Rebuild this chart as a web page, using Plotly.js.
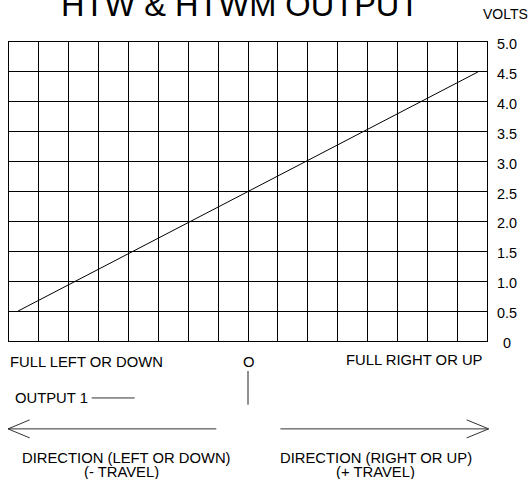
<!DOCTYPE html>
<html><head><meta charset="utf-8">
<script src="https://cdn.plot.ly/plotly-3.0.1.min.js"></script>
<style>html,body{margin:0;padding:0;background:#fff}</style>
</head><body><div id="chart" style="width:532px;height:479px"></div>
<script>
// Data
const travel = [-7.7, 7.7];          // position along travel (grid columns from centre)
const output1 = [0.5, 4.5];          // volts
const voltTicks = [0, 0.5, 1, 1.5, 2, 2.5, 3, 3.5, 4, 4.5, 5];
const voltTickLabels = ['0','0.5','1.0','1.5','2.0','2.5','3.0','3.5','4.0','4.5','5.0'];
const titleText = 'HTW & HTWM OUTPUT';
const unitText = 'VOLTS';

const W = 532, H = 479;
const L = 9.3, R = 487.3, T = 42, B = 340.7;
const px = x => (x - L) / (R - L);
const py = y => (B - y) / (B - T);
const FONT = 'Liberation Sans, Arial, sans-serif';

function txt(text, x, y, xanchor, size, extra) {
  return Object.assign({text: text, xref: 'paper', yref: 'paper', x: px(x), y: py(y),
    xanchor: xanchor, yanchor: 'middle', showarrow: false,
    font: {family: FONT, size: size, color: '#000'}}, extra || {});
}
function seg(x0, y0, x1, y1, color) {
  return {type: 'line', xref: 'paper', yref: 'paper', x0: px(x0), y0: py(y0), x1: px(x1), y1: py(y1),
    line: {color: color || '#333', width: 1}};
}

const annotations = [
  txt(titleText, 240.5, 5, 'center', 32.6),
  txt(unitText, 506, 14.5, 'center', 14),
  txt('FULL LEFT OR DOWN', 8.5, 362, 'left', 14.8),
  txt('O', 249.3, 362, 'center', 14.8),
  txt('FULL RIGHT OR UP', 485.5, 360, 'right', 14.8),
  txt('OUTPUT 1', 12.9, 397.6, 'left', 14.8),
  txt('DIRECTION (LEFT OR DOWN)', 126.5, 457.6, 'center', 14.8),
  txt('(- TRAVEL)', 122, 471.5, 'center', 14.8),
  txt('DIRECTION (RIGHT OR UP)', 375.8, 457.6, 'center', 14.8),
  txt('(+ TRAVEL)', 375.4, 471.5, 'center', 14.8)
];
voltTicks.forEach((v, i) => {
  annotations.push({text: voltTickLabels[i], xref: 'paper', yref: 'y', x: px(507), y: v,
    xanchor: 'center', yanchor: 'middle', yshift: -2, showarrow: false,
    font: {family: FONT, size: 14.4, color: '#000'}});
});

const shapes = [
  {type: 'line', xref: 'x', yref: 'paper', x0: 0, x1: 0, y0: py(370.7), y1: py(404.3), line: {color: '#222', width: 1}},
  seg(92, 397.6, 135, 397.6, '#333'),
  seg(8.3, 428.5, 216.6, 428.5), seg(8.3, 428.5, 30, 419.5), seg(8.3, 428.5, 30, 437.5),
  seg(280.7, 428.5, 489, 428.5), seg(489, 428.5, 467, 419.5), seg(489, 428.5, 467, 437.5)
];

const trace = {x: travel, y: output1, type: 'scatter', mode: 'lines',
  line: {color: '#000', width: 1}, hoverinfo: 'none', showlegend: false};

const layout = {
  width: W, height: H,
  margin: {l: L, r: W - R, t: T, b: H - B, pad: 0},
  paper_bgcolor: '#fff', plot_bgcolor: '#fff',
  showlegend: false,
  xaxis: {range: [-8, 8], dtick: 1, tick0: 0, showticklabels: false, ticks: '',
    showgrid: true, gridcolor: '#000', gridwidth: 1, zeroline: false,
    showline: true, linecolor: '#000', linewidth: 1, mirror: true, fixedrange: true},
  yaxis: {range: [0, 5], dtick: 0.5, tick0: 0, showticklabels: false, ticks: '',
    showgrid: true, gridcolor: '#000', gridwidth: 1, zeroline: false,
    showline: true, linecolor: '#000', linewidth: 1, mirror: true, fixedrange: true},
  annotations: annotations,
  shapes: shapes
};

Plotly.newPlot('chart', [trace], layout, {staticPlot: true, displayModeBar: false});
</script>
</body></html>
